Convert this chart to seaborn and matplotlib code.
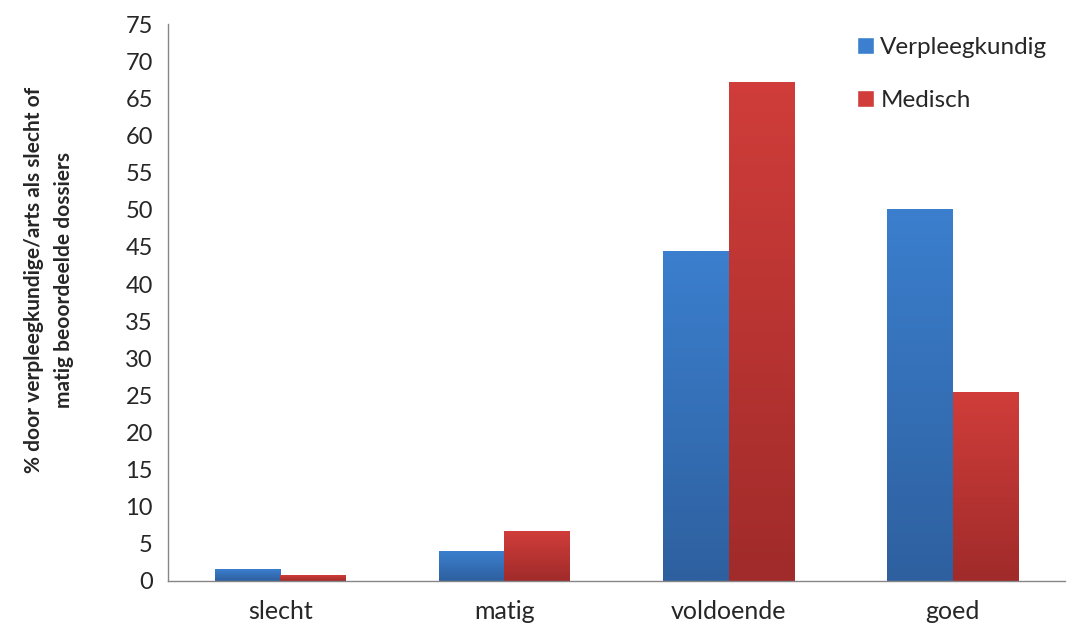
import numpy as np
import pandas as pd
import seaborn as sns
import matplotlib.pyplot as plt
from matplotlib.colors import LinearSegmentedColormap
from matplotlib.patches import Patch

categories = ["slecht", "matig", "voldoende", "goed"]
verpleegkundig = [1.6, 4.0, 44.4, 50.1]
medisch = [0.8, 6.7, 67.2, 25.4]
series = ["Verpleegkundig", "Medisch"]
ylabel = "% door verpleegkundige/arts als slecht of\nmatig beoordeelde dossiers"

df = pd.DataFrame({
    "cat": categories * 2,
    "value": verpleegkundig + medisch,
    "series": [series[0]] * 4 + [series[1]] * 4,
})

sns.set_theme(style="white")
plt.rcParams["font.family"] = ["Lato", "DejaVu Sans"]

top_cols = {"Verpleegkundig": "#3b7fce", "Medisch": "#d03d3a"}
bot_cols = {"Verpleegkundig": "#2e609f", "Medisch": "#a02b2a"}

fig = plt.figure(figsize=(10.67, 6.27), dpi=100)
ax = fig.add_axes([0.1575, 0.0734, 0.8405, 0.888])
sns.barplot(data=df, x="cat", y="value", hue="series", order=categories,
            hue_order=series, palette=[top_cols[s] for s in series],
            saturation=1, width=0.585, legend=False, ax=ax)

# vertical gradient fill, clipped to each bar
grad = np.linspace(0, 1, 256).reshape(-1, 1)
for i, patch in enumerate(ax.patches[:8]):
    s = series[i // 4]
    cmap = LinearSegmentedColormap.from_list(s, [bot_cols[s], top_cols[s]])
    x0, y0 = patch.get_x(), patch.get_y()
    w, h = patch.get_width(), patch.get_height()
    im = ax.imshow(grad, cmap=cmap, origin="lower", aspect="auto",
                   extent=[x0, x0 + w, y0, y0 + h], zorder=2)
    im.set_clip_path(patch)
    patch.set_facecolor("none")
    patch.set_edgecolor("none")

ax.set_xlim(-0.5, 3.5)
ax.set_ylim(0, 75)
ax.set_yticks(range(0, 80, 5))
ax.set_xticks(range(4))
ax.set_xticklabels(categories, fontsize=18)
ax.set_xticks(np.arange(-0.5, 4, 1), minor=True)
ax.tick_params(axis="x", which="major", length=0, pad=14)
ax.tick_params(axis="x", which="minor", length=6, width=1, color="#868686", direction="out")
ax.tick_params(axis="y", length=6, width=1, color="#868686", direction="out", labelsize=17, pad=5)
ax.set_xlabel("")
ax.set_ylabel(ylabel, fontsize=15, fontweight="bold", linespacing=1.6)
ax.yaxis.set_label_coords(-0.105, 0.54)

sns.despine(ax=ax)
for side in ["left", "bottom"]:
    ax.spines[side].set_color("#868686")
    ax.spines[side].set_linewidth(1)

handles = [Patch(facecolor=top_cols[s], label=s) for s in series]
ax.legend(handles=handles, loc="upper right", bbox_to_anchor=(1.005, 1.016),
          frameon=False, fontsize=17.5, handlelength=0.7, handleheight=0.7,
          handletextpad=0.25, labelspacing=1.3)

fig.savefig("out.png", dpi=100)
